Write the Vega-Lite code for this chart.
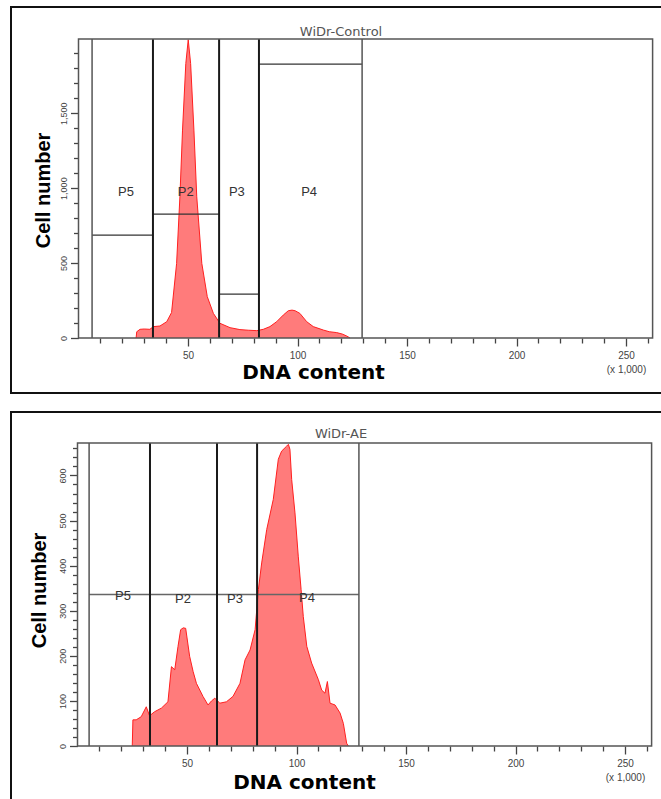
{
  "$schema": "https://vega.github.io/schema/vega-lite/v6.json",
  "padding": {"left": 10, "top": 6, "right": 0, "bottom": 0},
  "autosize": {"type": "pad"},
  "background": "white",
  "spacing": 17,
  "config": {
    "view": {"stroke": "#111", "strokeWidth": 2},
    "axis": {"grid": false, "domain": false, "tickColor": "#444", "tickWidth": 1.3, "labelColor": "#444", "labelFont": "Liberation Sans", "titleColor": "#000", "labelOverlap": false, "labelFlush": false}
  },
  "vconcat": [
    {
      "width": 660,
      "height": 386,
      "title": {"text": "WiDr-Control", "frame": "group", "anchor": "middle", "offset": -42, "font": "DejaVu Sans", "fontSize": 13, "fontWeight": "normal", "color": "#555", "baseline": "alphabetic"},
      "resolve": {"axis": {"x": "independent", "y": "independent"}},
      "layer": [
        {
          "data": {"values": [
            {"dna": 26.3, "count": 0}, {"dna": 26.6, "count": 42}, {"dna": 28.1, "count": 58}, {"dna": 30.0, "count": 60},
            {"dna": 32.6, "count": 58}, {"dna": 34.2, "count": 76}, {"dna": 37.2, "count": 80}, {"dna": 40.3, "count": 109},
            {"dna": 42.5, "count": 170}, {"dna": 44.8, "count": 498}, {"dna": 46.3, "count": 942}, {"dna": 47.5, "count": 1387},
            {"dna": 49.0, "count": 1831}, {"dna": 50.1, "count": 1990}, {"dna": 51.2, "count": 1831}, {"dna": 52.7, "count": 1387},
            {"dna": 54.0, "count": 942}, {"dna": 56.3, "count": 498}, {"dna": 58.8, "count": 276}, {"dna": 61.6, "count": 164},
            {"dna": 64.6, "count": 98}, {"dna": 69.2, "count": 69}, {"dna": 73.7, "count": 56}, {"dna": 77.5, "count": 52},
            {"dna": 81.4, "count": 49}, {"dna": 84.4, "count": 58}, {"dna": 87.4, "count": 76}, {"dna": 90.5, "count": 109},
            {"dna": 93.5, "count": 153}, {"dna": 95.8, "count": 182}, {"dna": 97.5, "count": 186}, {"dna": 98.9, "count": 182},
            {"dna": 101.1, "count": 164}, {"dna": 104.2, "count": 109}, {"dna": 107.2, "count": 76}, {"dna": 111.8, "count": 53},
            {"dna": 114.5, "count": 42}, {"dna": 117.9, "count": 36}, {"dna": 120.5, "count": 26}, {"dna": 122.5, "count": 13},
            {"dna": 124.0, "count": 0}
          ]},
          "mark": {"type": "area", "color": "#ff7b7b", "opacity": 1, "line": {"color": "#ff2020", "strokeWidth": 1}},
          "encoding": {
            "x": {"field": "dna", "type": "quantitative", "title": "DNA content",
              "scale": {"domain": [0, 262.144], "range": [67.5, 641.6], "nice": false, "zero": false},
              "axis": {"title": "DNA content", "orient": "bottom", "offset": -55,
                "values": [50, 100, 150, 200, 250], "tickSize": 8,
                "labelExpr": "datum.value === 250 ? ['250', '(x 1,000)'] : datum.label",
                "labelFontSize": 10, "labelPadding": 4, "labelLineHeight": 14,
                "titleFont": "DejaVu Sans", "titleFontSize": 20, "titleFontWeight": "bold",
                "titleX": 302, "titleY": 40, "titleAlign": "center", "titleBaseline": "alphabetic"}},
            "y": {"field": "count", "type": "quantitative", "title": "Cell number",
              "scale": {"domain": [0, 1995], "range": [331, 32], "nice": false},
              "axis": {"title": "Cell number", "orient": "left", "offset": -67.5,
                "values": [0, 500, 1000, 1500], "tickSize": 8,
                "labelExpr": "format(datum.value, ',.0f')",
                "labelAngle": -90, "labelAlign": "center", "labelBaseline": "bottom", "labelPadding": 2,
                "labelFontSize": 9,
                "titleFont": "Liberation Sans", "titleFontSize": 20, "titleFontWeight": "bold",
                "titleAngle": -90, "titleX": -29, "titleY": 183, "titleAlign": "center", "titleBaseline": "alphabetic"}}
          }
        },
        {
          "data": {"values": [
            {"gate": "P5", "dna": 6.2, "dna2": 34.0, "count": 687},
            {"gate": "P2", "dna": 34.0, "dna2": 64.2, "count": 827},
            {"gate": "P3", "dna": 64.2, "dna2": 82.4, "count": 293},
            {"gate": "P4", "dna": 82.4, "dna2": 129.5, "count": 1827}
          ]},
          "layer": [
            {"mark": {"type": "rule", "color": "#333", "strokeWidth": 1.3},
             "encoding": {"x": {"field": "dna", "type": "quantitative", "axis": null}, "x2": {"field": "dna2"}, "y": {"field": "count", "type": "quantitative", "axis": null}}},
            {"transform": [{"filter": "datum.gate !== 'P5'"}],
             "mark": {"type": "rule", "color": "#1a1a1a", "strokeWidth": 2},
             "encoding": {"x": {"field": "dna", "type": "quantitative", "axis": null}, "y": {"datum": 0, "type": "quantitative", "axis": null}, "y2": {"datum": 1995}}},
            {"transform": [{"filter": "datum.gate === 'P5'"}],
             "mark": {"type": "rule", "color": "#555", "strokeWidth": 1.5},
             "encoding": {"x": {"field": "dna", "type": "quantitative", "axis": null}, "y": {"datum": 0, "type": "quantitative", "axis": null}, "y2": {"datum": 1995}}},
            {"transform": [{"filter": "datum.gate === 'P4'"}],
             "mark": {"type": "rule", "color": "#555", "strokeWidth": 1.5},
             "encoding": {"x": {"field": "dna2", "type": "quantitative", "axis": null}, "y": {"datum": 0, "type": "quantitative", "axis": null}, "y2": {"datum": 1995}}}
          ]
        },
        {
          "data": {"values": [
            {"label": "P5", "dna": 21.7, "count": 975},
            {"label": "P2", "dna": 49.0, "count": 975},
            {"label": "P3", "dna": 72.3, "count": 975},
            {"label": "P4", "dna": 105.3, "count": 975}
          ]},
          "mark": {"type": "text", "font": "Liberation Sans", "fontSize": 13, "color": "#333", "align": "center", "baseline": "middle"},
          "encoding": {"x": {"field": "dna", "type": "quantitative", "axis": null}, "y": {"field": "count", "type": "quantitative", "axis": null}, "text": {"field": "label"}}
        },
        {
          "data": {"values": [{"dna": 0, "dna2": 262.144, "count": 0, "count2": 1995}]},
          "mark": {"type": "rect", "fill": "transparent", "stroke": "#555", "strokeWidth": 1.5},
          "encoding": {
            "x": {"field": "dna", "type": "quantitative",
              "axis": {"orient": "bottom", "offset": -55, "title": null, "labels": false, "tickSize": 5,
                "values": [10, 20, 30, 40, 60, 70, 80, 90, 110, 120, 130, 140, 160, 170, 180, 190, 210, 220, 230, 240, 260]}},
            "x2": {"field": "dna2"},
            "y": {"field": "count", "type": "quantitative",
              "axis": {"orient": "left", "offset": -67.5, "title": null, "labels": false, "tickSize": 5,
                "values": [100, 200, 300, 400, 600, 700, 800, 900, 1100, 1200, 1300, 1400, 1600, 1700, 1800, 1900]}},
            "y2": {"field": "count2"}
          }
        }
      ]
    },
    {
      "width": 660,
      "height": 388,
      "title": {"text": "WiDr-AE", "frame": "group", "anchor": "middle", "offset": -39, "font": "DejaVu Sans", "fontSize": 13, "fontWeight": "normal", "color": "#555", "baseline": "alphabetic"},
      "resolve": {"axis": {"x": "independent", "y": "independent"}},
      "layer": [
        {
          "data": {"values": [
            {"dna": 25.0, "count": 0}, {"dna": 25.3, "count": 58}, {"dna": 26.8, "count": 58}, {"dna": 29.1, "count": 65},
            {"dna": 31.4, "count": 87}, {"dna": 32.9, "count": 67}, {"dna": 35.2, "count": 76}, {"dna": 38.3, "count": 84},
            {"dna": 41.3, "count": 98}, {"dna": 42.9, "count": 176}, {"dna": 44.4, "count": 169}, {"dna": 45.9, "count": 221},
            {"dna": 47.1, "count": 258}, {"dna": 48.3, "count": 262}, {"dna": 49.4, "count": 261}, {"dna": 51.2, "count": 199},
            {"dna": 52.8, "count": 165}, {"dna": 54.3, "count": 139}, {"dna": 57.3, "count": 110}, {"dna": 59.6, "count": 91},
            {"dna": 61.2, "count": 100}, {"dna": 62.7, "count": 106}, {"dna": 65.0, "count": 95}, {"dna": 68.0, "count": 98},
            {"dna": 71.0, "count": 110}, {"dna": 74.2, "count": 139}, {"dna": 76.5, "count": 191}, {"dna": 78.8, "count": 213},
            {"dna": 81.1, "count": 258}, {"dna": 82.6, "count": 347}, {"dna": 84.1, "count": 406}, {"dna": 86.4, "count": 480},
            {"dna": 89.4, "count": 547}, {"dna": 91.7, "count": 636}, {"dna": 93.2, "count": 654}, {"dna": 95.5, "count": 665},
            {"dna": 96.3, "count": 669}, {"dna": 97.0, "count": 658}, {"dna": 97.8, "count": 591}, {"dna": 99.3, "count": 517},
            {"dna": 100.8, "count": 421}, {"dna": 102.1, "count": 347}, {"dna": 103.1, "count": 287}, {"dna": 104.7, "count": 221},
            {"dna": 106.9, "count": 184}, {"dna": 110.0, "count": 147}, {"dna": 111.5, "count": 124}, {"dna": 113.0, "count": 117},
            {"dna": 114.1, "count": 143}, {"dna": 115.3, "count": 95}, {"dna": 117.6, "count": 91}, {"dna": 119.9, "count": 73},
            {"dna": 121.4, "count": 50}, {"dna": 122.9, "count": 6}, {"dna": 123.7, "count": 0}
          ]},
          "mark": {"type": "area", "color": "#ff7b7b", "opacity": 1, "line": {"color": "#ff2020", "strokeWidth": 1}},
          "encoding": {
            "x": {"field": "dna", "type": "quantitative", "title": "DNA content",
              "scale": {"domain": [0, 262.144], "range": [66.5, 640.6], "nice": false, "zero": false},
              "axis": {"title": "DNA content", "orient": "bottom", "offset": -54,
                "values": [50, 100, 150, 200, 250], "tickSize": 8,
                "labelExpr": "datum.value === 250 ? ['250', '(x 1,000)'] : datum.label",
                "labelFontSize": 10, "labelPadding": 4, "labelLineHeight": 14,
                "titleFont": "DejaVu Sans", "titleFontSize": 20, "titleFontWeight": "bold",
                "titleX": 293, "titleY": 42, "titleAlign": "center", "titleBaseline": "alphabetic"}},
            "y": {"field": "count", "type": "quantitative", "title": "Cell number",
              "scale": {"domain": [0, 672], "range": [334, 31], "nice": false},
              "axis": {"title": "Cell number", "orient": "left", "offset": -66.5,
                "values": [0, 100, 200, 300, 400, 500, 600], "tickSize": 8,
                "labelAngle": -90, "labelAlign": "center", "labelBaseline": "bottom", "labelPadding": 2,
                "labelFontSize": 9,
                "titleFont": "Liberation Sans", "titleFontSize": 20, "titleFontWeight": "bold",
                "titleAngle": -90, "titleX": -32, "titleY": 178, "titleAlign": "center", "titleBaseline": "alphabetic"}}
          }
        },
        {
          "data": {"values": [
            {"gate": "P5", "dna": 5.3, "dna2": 33.1, "count": 336},
            {"gate": "P2", "dna": 33.1, "dna2": 63.7, "count": 336},
            {"gate": "P3", "dna": 63.7, "dna2": 82.0, "count": 336},
            {"gate": "P4", "dna": 82.0, "dna2": 128.5, "count": 336}
          ]},
          "layer": [
            {"mark": {"type": "rule", "color": "#666", "strokeWidth": 1.5},
             "encoding": {"x": {"field": "dna", "type": "quantitative", "axis": null}, "x2": {"field": "dna2"}, "y": {"field": "count", "type": "quantitative", "axis": null}}},
            {"transform": [{"filter": "datum.gate !== 'P5'"}],
             "mark": {"type": "rule", "color": "#1a1a1a", "strokeWidth": 2},
             "encoding": {"x": {"field": "dna", "type": "quantitative", "axis": null}, "y": {"datum": 0, "type": "quantitative", "axis": null}, "y2": {"datum": 672}}},
            {"transform": [{"filter": "datum.gate === 'P5'"}],
             "mark": {"type": "rule", "color": "#555", "strokeWidth": 1.5},
             "encoding": {"x": {"field": "dna", "type": "quantitative", "axis": null}, "y": {"datum": 0, "type": "quantitative", "axis": null}, "y2": {"datum": 672}}},
            {"transform": [{"filter": "datum.gate === 'P4'"}],
             "mark": {"type": "rule", "color": "#555", "strokeWidth": 1.5},
             "encoding": {"x": {"field": "dna2", "type": "quantitative", "axis": null}, "y": {"datum": 0, "type": "quantitative", "axis": null}, "y2": {"datum": 672}}}
          ]
        },
        {
          "data": {"values": [
            {"label": "P5", "dna": 20.8, "count": 333},
            {"label": "P2", "dna": 48.2, "count": 325},
            {"label": "P3", "dna": 71.9, "count": 325},
            {"label": "P4", "dna": 104.8, "count": 329}
          ]},
          "mark": {"type": "text", "font": "Liberation Sans", "fontSize": 13, "color": "#333", "align": "center", "baseline": "middle"},
          "encoding": {"x": {"field": "dna", "type": "quantitative", "axis": null}, "y": {"field": "count", "type": "quantitative", "axis": null}, "text": {"field": "label"}}
        },
        {
          "data": {"values": [{"dna": 0, "dna2": 262.144, "count": 0, "count2": 672}]},
          "mark": {"type": "rect", "fill": "transparent", "stroke": "#555", "strokeWidth": 1.5},
          "encoding": {
            "x": {"field": "dna", "type": "quantitative",
              "axis": {"orient": "bottom", "offset": -54, "title": null, "labels": false, "tickSize": 5,
                "values": [10, 20, 30, 40, 60, 70, 80, 90, 110, 120, 130, 140, 160, 170, 180, 190, 210, 220, 230, 240, 260]}},
            "x2": {"field": "dna2"},
            "y": {"field": "count", "type": "quantitative",
              "axis": {"orient": "left", "offset": -66.5, "title": null, "labels": false, "tickSize": 5,
                "values": [20, 40, 60, 80, 120, 140, 160, 180, 220, 240, 260, 280, 320, 340, 360, 380, 420, 440, 460, 480, 520, 540, 560, 580, 620, 640, 660]}},
            "y2": {"field": "count2"}
          }
        }
      ]
    }
  ]
}
